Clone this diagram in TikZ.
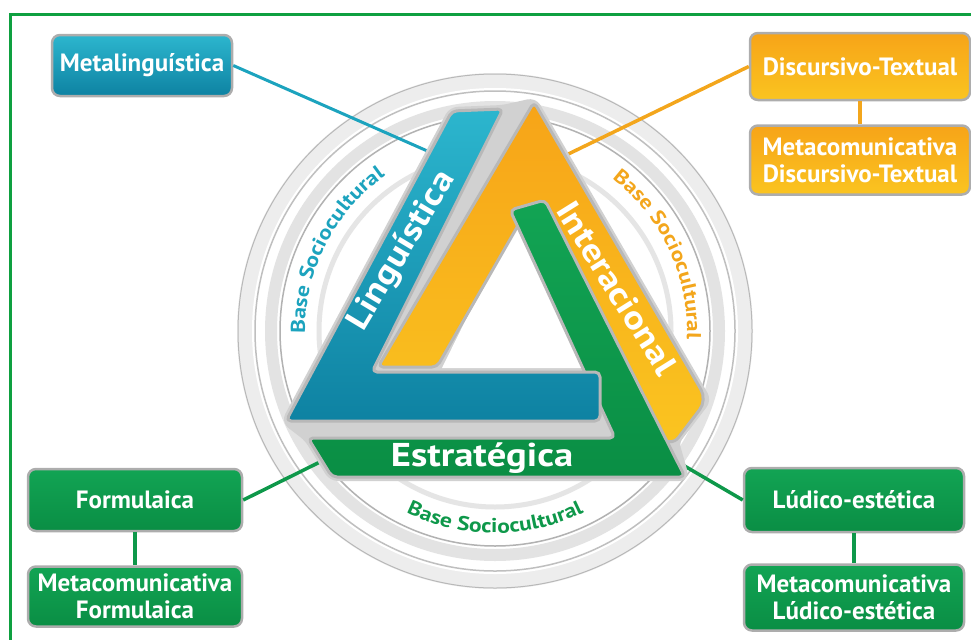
\documentclass[tikz,border=0pt]{standalone}
\usepackage{fontspec}
\setmainfont{PT Sans}
\newfontfamily\widefont{PT Sans}[FakeStretch=1.17]
\usetikzlibrary{positioning,decorations.text}
\definecolor{tealT}{RGB}{28,163,190}
\definecolor{tealTop}{RGB}{44,182,206}
\definecolor{tealLow}{RGB}{14,130,162}
\definecolor{orangeT}{RGB}{243,166,28}
\definecolor{orangeTop}{RGB}{247,164,24}
\definecolor{orangeLow}{RGB}{250,196,32}
\definecolor{greenT}{RGB}{14,152,74}
\definecolor{greenTop}{RGB}{18,164,84}
\definecolor{greenLow}{RGB}{10,142,68}
\definecolor{frameG}{RGB}{14,160,64}
\tikzstyle{Link}=[line width=3.5pt]

\begin{document}
\begin{tikzpicture}[
  x=1pt, y=-1pt,
  Box/.style={draw=black!32, line width=2.5pt, rounded corners=8pt, text=white, align=center,
    font=\fontsize{25}{27}\selectfont\bfseries, inner sep=0pt},
  TealBox/.style={Box, top color=tealTop, bottom color=tealLow},
  OrangeBox/.style={Box, top color=orangeTop, bottom color=orangeLow},
  GreenBox/.style={Box, top color=greenTop, bottom color=greenLow},
  Bar/.style={draw=black!28, line width=3pt, line join=round, rounded corners=5pt},
  BarText/.style={text=white, font=\widefont\fontsize{33}{36}\selectfont\bfseries},
  Base/.style={decorate, decoration={text along path, text align=center,
    text={|\widefont\fontsize{20}{20}\selectfont\bfseries\color{#1}|Base Sociocultural}}}
]
\useasboundingbox (0,0) rectangle (971,640);
\draw[frameG, line width=3pt] (971,14) -- (10,14) -- (10,640);

\coordinate (c) at (495,331);
\fill[black!7] (c) circle[radius=258pt];
\draw[black!28, line width=1pt] (c) circle[radius=257pt];
\fill[white] (c) circle[radius=243pt];
\draw[black!25, line width=1.5pt] (c) circle[radius=240pt];
\draw[black!11, line width=12pt] (c) circle[radius=224pt];
\draw[black!30, line width=1.5pt] (c) circle[radius=215pt];
\draw[black!10, line width=5pt] (c) circle[radius=176pt];

\path[Base=tealT] (c) ++(195:190pt) arc[start angle=195, end angle=111, radius=190pt];
\path[Base=orangeT] (c) ++(67:192pt) arc[start angle=67, end angle=-17, radius=192pt];
\path[Base=greenT] (c) ++(228:202pt) arc[start angle=228, end angle=312, radius=202pt];

\node[TealBox, minimum width=180pt, minimum height=61pt] (meta) at (142,65.5) {Metalinguística};
\node[OrangeBox, minimum width=220pt, minimum height=67pt] (disc) at (860,66.5) {Discursivo-Textual};
\node[OrangeBox, minimum width=220pt, minimum height=69pt, below=23pt of disc] (metadisc) {Metacomunicativa\\Discursivo-Textual};
\node[GreenBox, minimum width=214pt, minimum height=62pt] (form) at (135,500) {Formulaica};
\node[GreenBox, minimum width=214pt, minimum height=60pt, below=33pt of form] (metaform) {Metacomunicativa\\Formulaica};
\node[GreenBox, minimum width=220pt, minimum height=64pt] (ludico) at (854,500) {Lúdico-estética};
\node[GreenBox, minimum width=220pt, minimum height=66pt, below=30pt of ludico] (metaludico) {Metacomunicativa\\Lúdico-estética};

\coordinate (tealpin) at (441,157);
\coordinate (orangepin) at (556,160);
\coordinate (formpin) at (334,455);
\coordinate (ludicopin) at (664,454);
\draw[Link, tealT, line width=3pt] (meta.east) -- (tealpin);
\draw[Link, orangeT] (disc.west) -- (orangepin);
\draw[Link, orangeT] (disc.south) -- (metadisc.north);
\draw[Link, greenT] (form.east) -- (formpin);
\draw[Link, greenT] (form.south) -- (metaform.north);
\draw[Link, greenT] (ludico.west) -- (ludicopin);
\draw[Link, greenT] (ludico.south) -- (metaludico.north);

\fill[black!18, draw=black!18, line width=8pt, line join=round, rounded corners=6pt]
  (534,102) -- (707,400) -- (675,442) -- (685,477) -- (332,477) -- (308,438) -- (286,421) -- (452,111) -- (503,109) -- cycle;
\fill[white] (514,222) -- (442,368) -- (583,368) -- cycle;

\path[Bar, top color=orangeTop, bottom color=orangeLow]
  (378,367) -- (534,102) [rounded corners=12pt] -- (707,400) [rounded corners=5pt] -- (675,442) -- (640,440) -- (530,212) -- (520,222) -- (437,367) -- cycle;
\path[Bar, top color=greenTop, bottom color=greenLow]
  (510,210) -- (545,200) -- (685,477) -- (332,477) -- (308,438) -- (615,438) -- cycle;
\path[Bar, top color=tealTop, bottom color=tealLow]
  (452,111) -- (503,109) -- (372,372) -- (600,372) -- (600,421) -- (286,421) -- cycle;

\node[BarText, rotate=59] (ling) at (402,251) {Linguística};
\node[BarText, rotate=-58] (inter) at (617,288) {Interacional};
\node[BarText] (estr) at (482,458) {Estratégica};
\end{tikzpicture}
\end{document}
